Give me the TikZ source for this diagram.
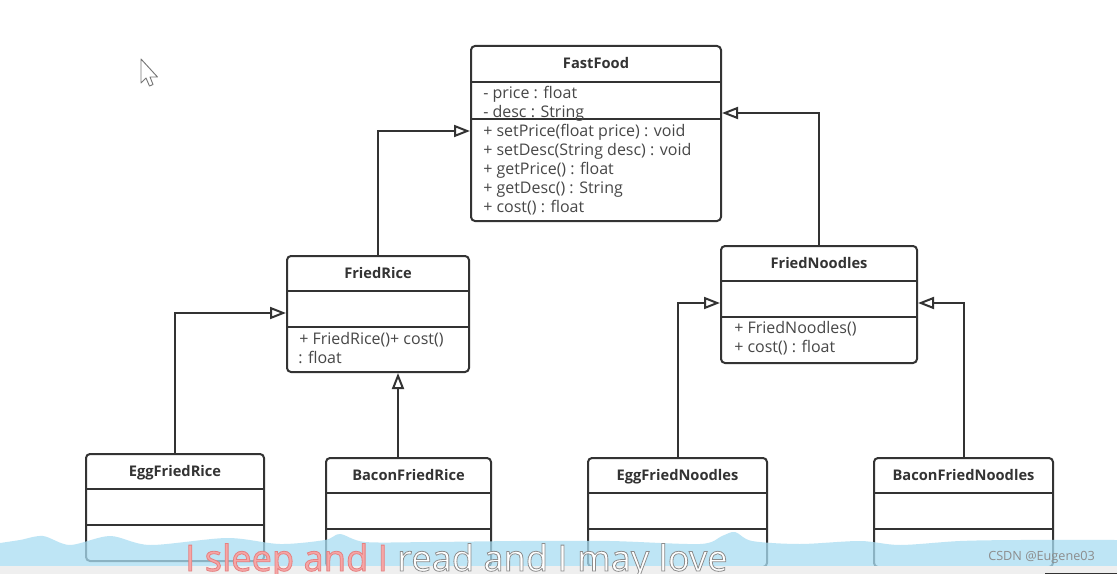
\documentclass[tikz,border=0pt]{standalone}
\usepackage{fontspec}
\setmainfont{Open Sans}
\usetikzlibrary{arrows.meta,calc}
\definecolor{linec}{HTML}{333333}
\definecolor{textc}{HTML}{333333}
\definecolor{memc}{HTML}{474747}
\definecolor{bandc}{HTML}{A9DDF2}
\definecolor{pinkc}{HTML}{F6A6A6}
\definecolor{barc}{HTML}{EFEFEF}
\definecolor{cursc}{HTML}{777777}
\newcommand{\outlinepink}[1]{\special{pdf:literal direct 0.90 0.50 0.50 RG 0.6 w 2 Tr}#1\special{pdf:literal direct 0 Tr}}
\newcommand{\outlinegray}[1]{\special{pdf:literal direct 0.55 0.55 0.55 RG 0.6 w 2 Tr}#1\special{pdf:literal direct 0 Tr}}
\begin{document}
\begin{tikzpicture}[x=0.75pt,y=-0.75pt,
  box/.style 2 args={draw=linec, line width=1.5pt, rounded corners=3pt, fill=white, inner sep=0pt, anchor=north west, minimum width=#1*0.75pt, minimum height=#2*0.75pt},
  sepline/.style={draw=linec, line width=1.5pt},
  title/.style={font=\bfseries\fontsize{11}{13}\selectfont, text=textc, inner sep=0pt, anchor=base},
  member/.style={font=\fontsize{12}{14}\selectfont, text=memc, inner sep=0pt, anchor=base west},
  gen/.style={draw=linec, line width=1.5pt, -{Triangle[length=12pt,width=9pt,fill=white]}}
]
\useasboundingbox[fill=white] (0,0) rectangle (1117,574);

% cursor
\draw[cursc, fill=white, line width=0.7pt, line join=round] (141,59) -- (141,83) -- (146,78) -- (149.5,86) -- (153,84.5) -- (150,77) -- (157.5,77) -- cycle;

% ---- classes ----
\node[box={250}{175}] (ff) at (470,45) {};
\node[box={182}{116}] (fr) at (286,255) {};
\node[box={196}{117}] (fn) at (720,245) {};
\node[box={178}{107}] (efr) at (85,453) {};
\node[box={165}{109}] (bfr) at (325,457) {};
\node[box={179}{109}] (efn) at (587,457) {};
\node[box={179}{109}] (bfn) at (873,457) {};

% separators
\foreach \n/\a/\b in {ff/37/74, fr/36/72, fn/36/72, efr/36/72, bfr/36/72, efn/36/72, bfn/36/72}{
  \draw[sepline] ($(\n.north west)+(0,\a)$) -- ($(\n.north east)+(0,\a)$);
  \draw[sepline] ($(\n.north west)+(0,\b)$) -- ($(\n.north east)+(0,\b)$);
}

% titles
\node[title] (fft) at ($(ff.north)+(0,23.5)$) {FastFood};
\node[title] (frt) at ($(fr.north)+(0,23.5)$) {FriedRice};
\node[title] (fnt) at ($(fn.north)+(0,23.5)$) {FriedNoodles};
\node[title] (efrt) at ($(efr.north)+(0,23.5)$) {EggFriedRice};
\node[title] (bfrt) at ($(bfr.north)+(0,23.5)$) {BaconFriedRice};
\node[title] (efnt) at ($(efn.north)+(0,23.5)$) {EggFriedNoodles};
\node[title] (bfnt) at ($(bfn.north)+(0,23.5)$) {BaconFriedNoodles};

% members
\node[member] (ffa1) at ($(ff.north west)+(13,53.5)$) {- price : float};
\node[member] (ffa2) at ($(ff.north west)+(13,72.5)$) {- desc : String};
\node[member] (ffm1) at ($(ff.north west)+(13,91.5)$) {+ setPrice(float price) : void};
\node[member] (ffm2) at ($(ff.north west)+(13,110.5)$) {+ setDesc(String desc) : void};
\node[member] (ffm3) at ($(ff.north west)+(13,129.5)$) {+ getPrice() : float};
\node[member] (ffm4) at ($(ff.north west)+(13,148.5)$) {+ getDesc() : String};
\node[member] (ffm5) at ($(ff.north west)+(13,167.5)$) {+ cost() : float};

\node[member] (frm1) at ($(fr.north west)+(13,89)$) {+ FriedRice()+ cost()};
\node[member] (frm2) at ($(fr.north west)+(12,108)$) {: float};

\node[member] (fnm1) at ($(fn.north west)+(14,88.5)$) {+ FriedNoodles()};
\node[member] (fnm2) at ($(fn.north west)+(14,107.5)$) {+ cost() : float};

% ---- connectors ----
\coordinate (ffL) at ($(ff.north west)+(0,86)$);
\coordinate (ffR) at ($(ff.north east)+(0,68)$);
\coordinate (frL) at ($(fr.north west)+(0,58)$);
\coordinate (frB) at ($(fr.south)+(20,0)$);
\coordinate (fnL) at ($(fn.north west)+(0,58)$);
\coordinate (fnR) at ($(fn.north east)+(0,58)$);

\draw[gen] (fr.north) |- (ffL);
\draw[gen] (fn.north) |- (ffR);
\draw[gen] (efr.north) |- (frL);
\draw[gen] (bfr.north -| frB) -- (frB);
\draw[gen] (efn.north) |- (fnL);
\draw[gen] (bfn.north) |- (fnR);

% ---- overlay band ----
\fill[bandc, opacity=0.75] plot[smooth] coordinates {(0,543) (20,540) (43,536) (70,545) (110,536) (150,545) (227,538) (280,544) (325,540) (340,534) (365,542) (430,542) (520,541) (610,541) (700,544) (722,536) (735,532) (752,541) (800,544) (860,541) (900,545) (960,541) (1020,540) (1117,540)} -- (1117,566) -- (0,566) -- cycle;
\fill[barc] (0,566) rectangle (1117,574);
\fill[linec] (1045,572.5) rectangle (1117,574);

% subtitle and watermark
\node[anchor=base west, inner sep=0pt, font=\fontsize{27.2}{30}\selectfont] (sub) at (185,571)
  {\color{pinkc}\outlinepink{I sleep and I}\ \color{white}\outlinegray{read and I may love}};
\node[anchor=west, inner sep=0pt, font=\fontsize{9.5}{11}\selectfont, text=gray!90] (wm) at (988,557) {CSDN @Eugene03};
\end{tikzpicture}
\end{document}
